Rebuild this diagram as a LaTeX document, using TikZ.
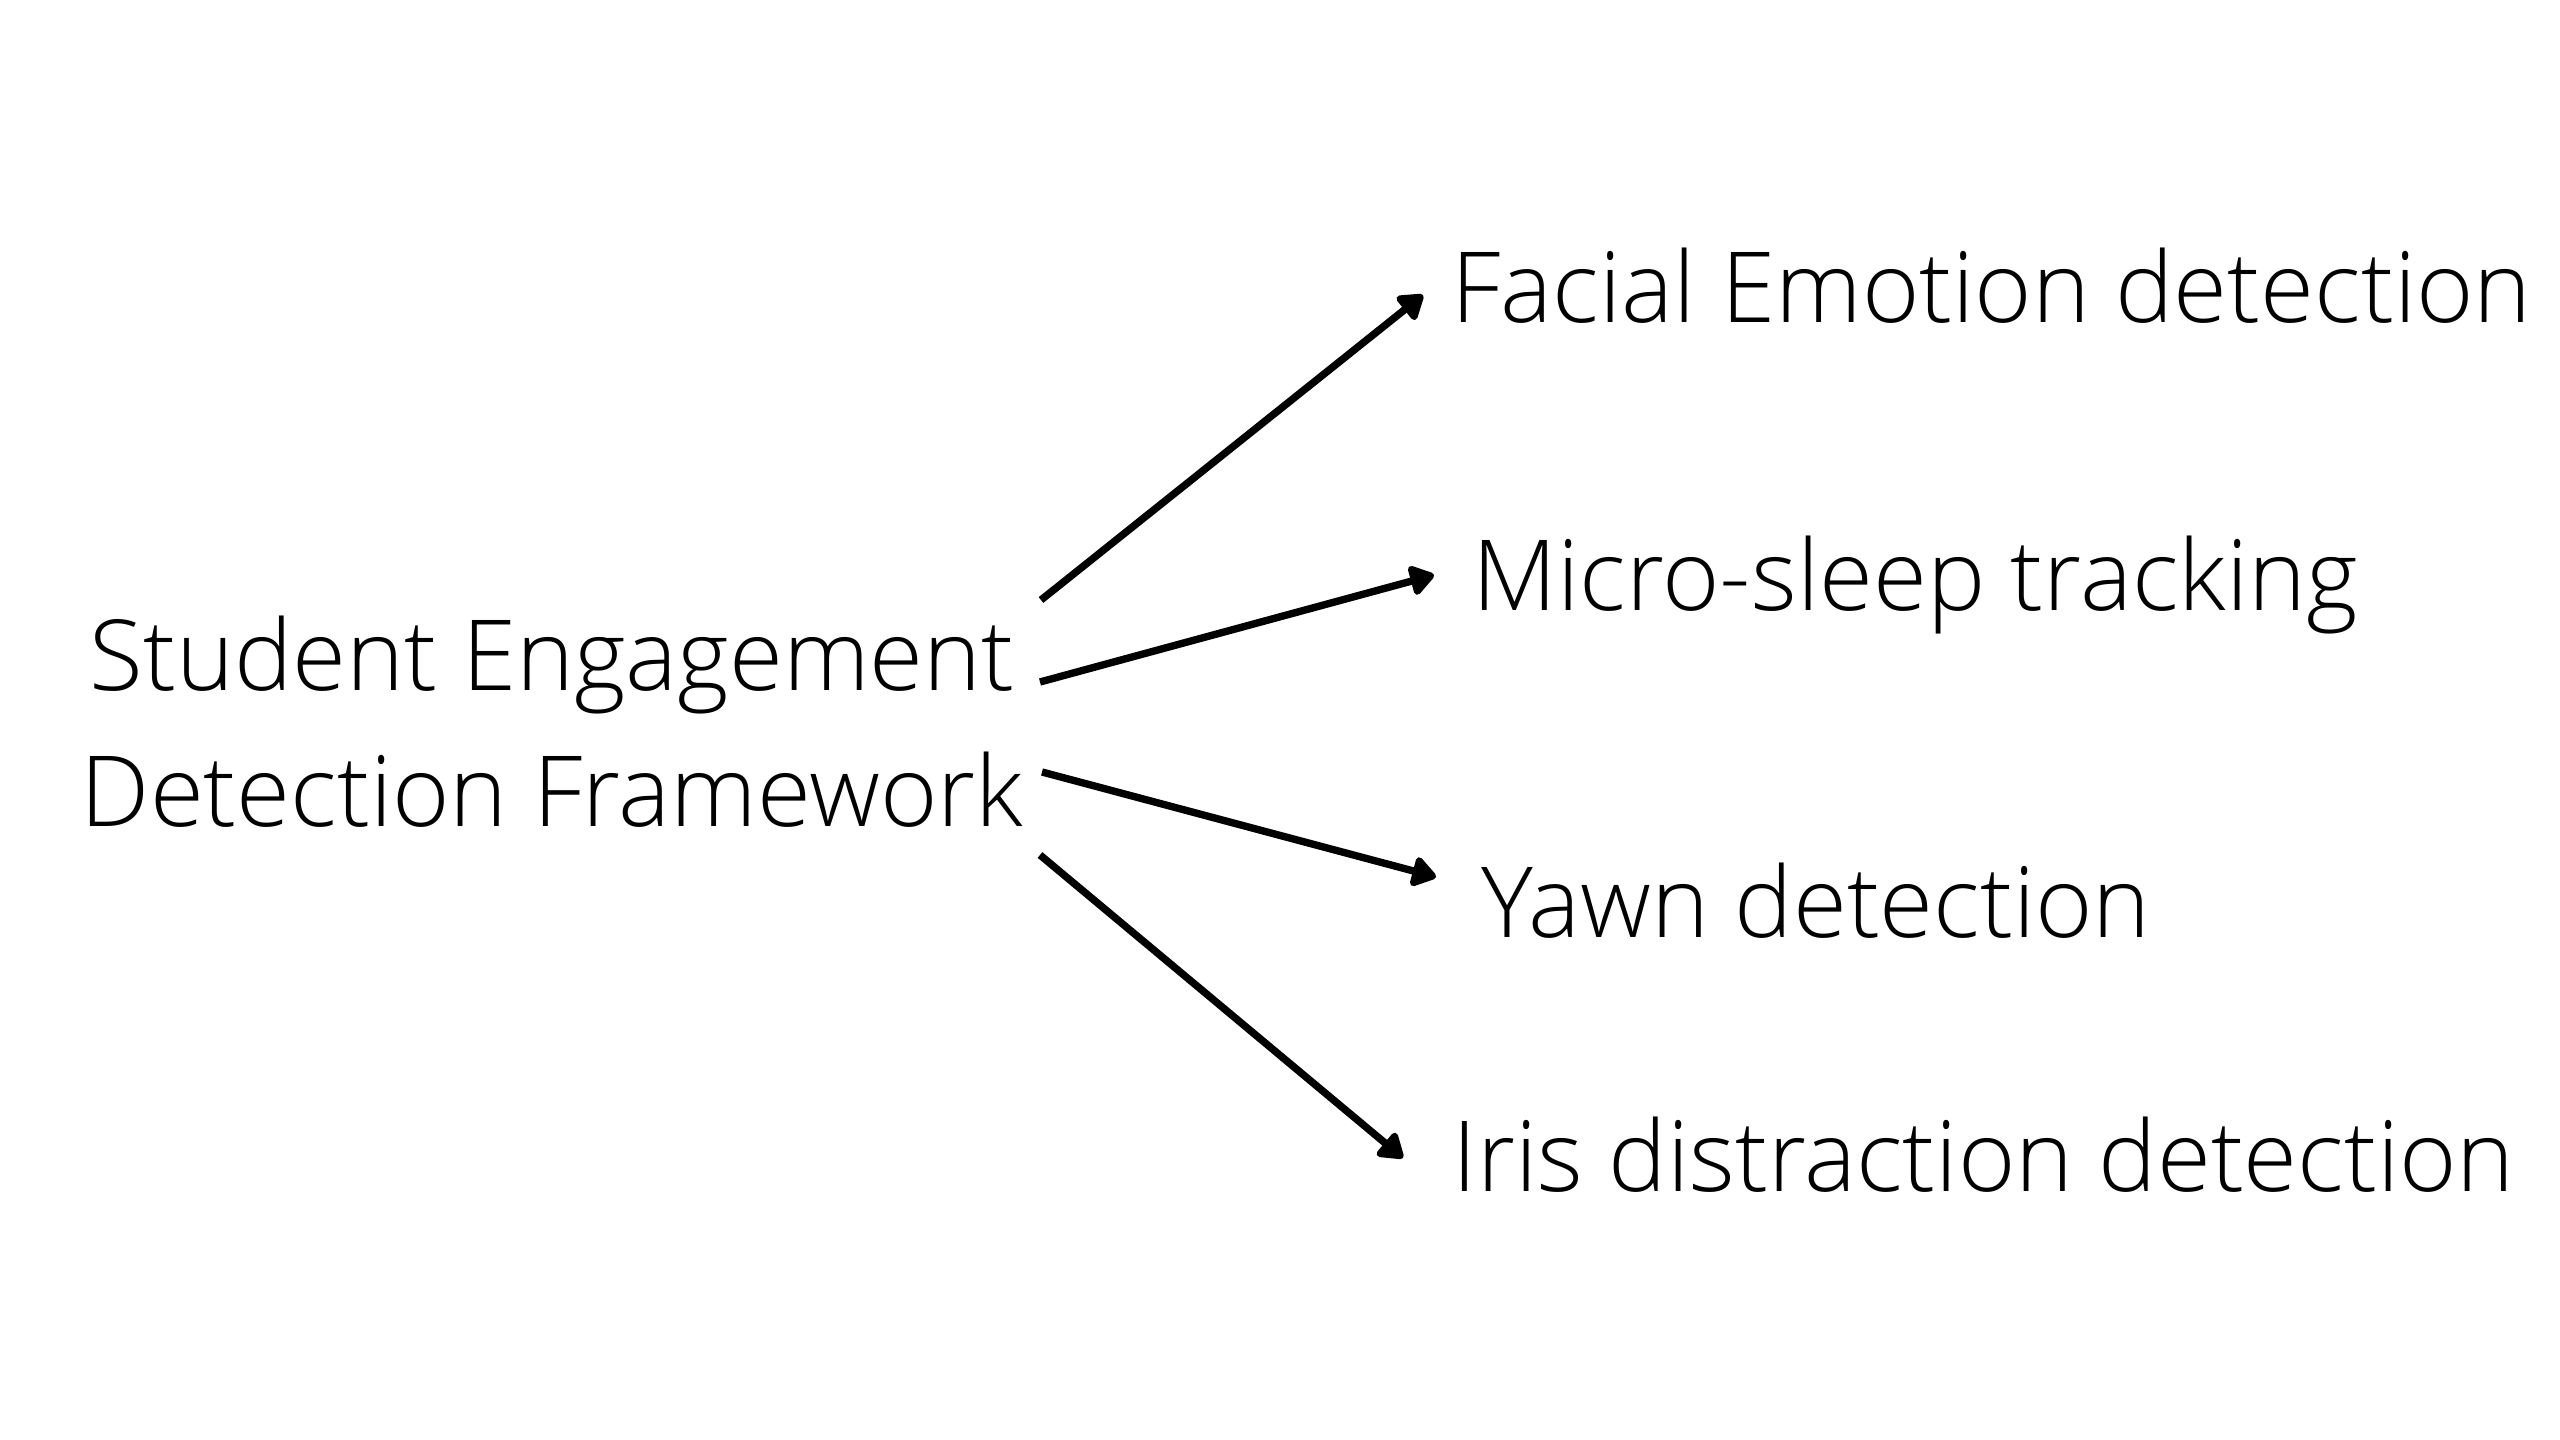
\documentclass[tikz,border=0pt]{standalone}
\usepackage{fontspec}
\setmainfont{Open Sans Light}
\usetikzlibrary{arrows.meta}
\tikzset{
  lbl/.style={inner sep=0pt, font=\fontsize{27.9}{38.9}\selectfont},
  arr/.style={line width=2.1pt, -{Triangle[length=7.6pt,width=9.6pt,round]}}
}
\begin{document}
\begin{tikzpicture}[x=0.01cm,y=-0.01cm]
\useasboundingbox[fill=white] (0,0) rectangle (2560,1440);
\node[lbl, align=center, anchor=base] (src) at (552,827) {Student Engagement\\Detection Framework};
\node[lbl, anchor=base west] (f) at (1451,323) {Facial Emotion detection};
\node[lbl, anchor=base west] (m) at (1472,611) {Micro-sleep tracking};
\node[lbl, anchor=base west] (y) at (1481,937) {Yawn detection};
\node[lbl, anchor=base west] (i) at (1452,1191) {Iris distraction detection};
\coordinate (s1) at (1041,600);
\coordinate (s2) at (1040,682);
\coordinate (s3) at (1042,772);
\coordinate (s4) at (1040,855);
\coordinate (e1) at (1423,295);
\coordinate (e2) at (1434,575);
\coordinate (e3) at (1436,877);
\coordinate (e4) at (1403,1158);
\draw[arr] (s1) -- (e1);
\draw[arr] (s2) -- (e2);
\draw[arr] (s3) -- (e3);
\draw[arr] (s4) -- (e4);
\end{tikzpicture}
\end{document}
